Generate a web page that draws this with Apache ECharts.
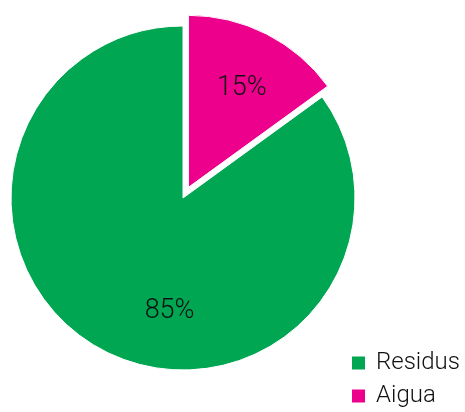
<!DOCTYPE html>
<html><head><meta charset="utf-8">
<script src="https://cdn.jsdelivr.net/npm/echarts@6/dist/echarts.min.js"></script>
<style>html,body{margin:0;padding:0;background:#fff}#c{width:465px;height:412px}</style>
</head><body><div id="c"></div>
<script>
const categories = ['Aigua', 'Residus'];
const values = [15, 85];
const colors = ['#EC008C', '#00A651'];
const legendOrder = ['Residus', 'Aigua'];
const labelOffset = {Aigua: [13, -20], Residus: [27, 34]};

const legendBase = {
  orient: 'vertical', left: 350, padding: 0,
  icon: 'rect', itemWidth: 15, itemHeight: 15,
  textStyle: {fontFamily: 'Roboto', fontWeight: 300, fontSize: 24, color: '#111', padding: [0,0,0,5]},
  selectedMode: false
};
const chart = echarts.init(document.getElementById('c'));
chart.setOption({
  animation: false,
  legend: legendOrder.map((n, i) => Object.assign({}, legendBase, {data: [n], top: 351 + i * 33})),
  series: [{
    type: 'pie',
    center: [183, 198], radius: 172,
    startAngle: 90, clockwise: true,
    selectedMode: 'single', selectedOffset: 12,
    itemStyle: {borderColor: '#fff', borderWidth: 1},
    label: {
      position: 'inside', formatter: '{d}%',
      fontFamily: 'Roboto', fontWeight: 300, fontSize: 27, color: '#111'
    },
    emphasis: {disabled: true},
    data: categories.map((c, i) => ({
      name: c, value: values[i], selected: c === 'Aigua',
      itemStyle: {color: colors[i]},
      label: {offset: labelOffset[c]},
      select: {label: {offset: labelOffset[c]}}
    }))
  }]
});
</script></body></html>
